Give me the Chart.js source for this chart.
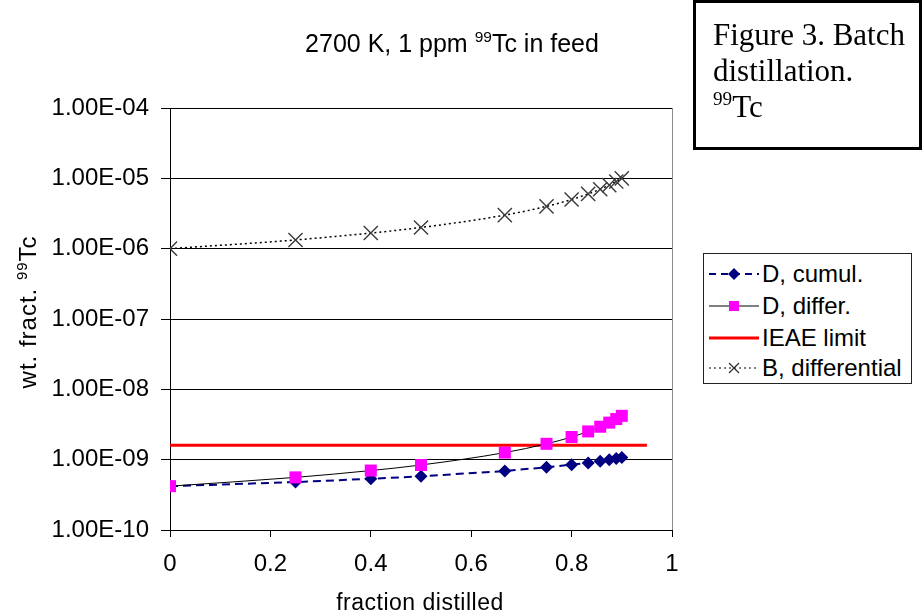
<!DOCTYPE html>
<html>
<head>
<meta charset="utf-8">
<script src="https://cdn.jsdelivr.net/npm/chart.js@4.4.1/dist/chart.umd.min.js"></script>
<style>
  html, body { margin: 0; padding: 0; background: #ffffff; }
  #wrap { position: relative; width: 922px; height: 614px; overflow: hidden; background: #fff; }
  #chart { position: absolute; left: 0; top: 0; }
  .txt { position: absolute; font-family: "Liberation Sans", Arial, sans-serif; color: #000; white-space: nowrap; }
  sup.s { font-size: 0.62em; vertical-align: 0.62em; line-height: 0; }
  #title { left: 252px; top: 31px; width: 400px; text-align: center; font-size: 25px; line-height: 25px; }
  #ytitle { left: -72px; top: 297px; width: 200px; height: 30px; line-height: 30px; text-align: center; font-size: 24px; letter-spacing: 1px; transform: rotate(-90deg); }
  #xtitle { left: 270px; top: 590px; width: 300px; text-align: center; font-size: 23px; line-height: 24px; letter-spacing: 0.5px; }
  #figbox { position: absolute; left: 693px; top: 0px; width: 229px; height: 150px; box-sizing: border-box; border: 3px solid #000; padding: 14px 0 0 17px; font-family: "Liberation Serif", "Times New Roman", serif; font-size: 31px; line-height: 36px; color: #000; }
  #legend { position: absolute; left: 703px; top: 253px; width: 209px; height: 131px; box-sizing: border-box; border: 1px solid #222; background: #fff; }
  .lrow { position: absolute; left: 0; height: 30px; width: 207px; }
  .lrow svg { position: absolute; left: 3px; top: 0; }
  .lrow span { position: absolute; left: 58px; top: 2px; font-family: "Liberation Sans", Arial, sans-serif; font-size: 24px; line-height: 26px; color: #000; white-space: nowrap; }
</style>
</head>
<body>
<div id="wrap">
  <canvas id="chart" width="922" height="614"></canvas>
  <div id="title" class="txt">2700 K, 1 ppm <sup class="s">99</sup>Tc in feed</div>
  <div id="ytitle" class="txt">wt. fract. <sup class="s">99</sup>Tc</div>
  <div id="xtitle" class="txt">fraction distilled</div>
  <div id="figbox">Figure 3. Batch<br>distillation.<br><sup class="s">99</sup>Tc</div>
  <div id="legend">
    <div class="lrow" style="top:5px">
      <svg width="54" height="30"><line x1="2" y1="15" x2="52" y2="15" stroke="#000080" stroke-width="2" stroke-dasharray="7,5"/><polygon points="27,9 33,15 27,21 21,15" fill="#000080"/></svg>
      <span>D, cumul.</span>
    </div>
    <div class="lrow" style="top:37px">
      <svg width="54" height="30"><line x1="2" y1="15" x2="52" y2="15" stroke="#000" stroke-width="1"/><rect x="22" y="10" width="10" height="10" fill="#FF00FF"/></svg>
      <span>D, differ.</span>
    </div>
    <div class="lrow" style="top:69px">
      <svg width="54" height="30"><line x1="2" y1="15" x2="52" y2="15" stroke="#FF0000" stroke-width="3"/></svg>
      <span>IEAE limit</span>
    </div>
    <div class="lrow" style="top:99px">
      <svg width="54" height="30"><line x1="2" y1="15" x2="52" y2="15" stroke="#000" stroke-width="1" stroke-dasharray="2,3"/><line x1="22" y1="10" x2="32" y2="20" stroke="#333" stroke-width="1.3"/><line x1="32" y1="10" x2="22" y2="20" stroke="#333" stroke-width="1.3"/></svg>
      <span>B, differential</span>
    </div>
  </div>
</div>
<script>
// ---- data ----
const fractionDistilled = [0, 0.25, 0.4, 0.5, 0.667, 0.75, 0.8, 0.833, 0.857, 0.875, 0.889, 0.9];
const dCumul = [4.2e-10, 4.8e-10, 5.35e-10, 5.8e-10, 6.9e-10, 7.8e-10, 8.5e-10, 9.0e-10, 9.5e-10, 1.0e-9, 1.04e-9, 1.07e-9];
const dDiffer = [4.2e-10, 5.6e-10, 7.0e-10, 8.4e-10, 1.26e-9, 1.68e-9, 2.1e-9, 2.52e-9, 2.94e-9, 3.36e-9, 3.78e-9, 4.2e-9];
const bDifferential = [1.0e-6, 1.33e-6, 1.67e-6, 2.0e-6, 3.0e-6, 4.0e-6, 5.0e-6, 6.0e-6, 7.0e-6, 8.0e-6, 9.0e-6, 1.0e-5];
const ieaeLimitX = [0, 0.95];
const ieaeLimit = [1.6e-9, 1.6e-9];

const yTickValues = [1e-10, 1e-9, 1e-8, 1e-7, 1e-6, 1e-5, 1e-4];
const yTickLabels = ['1.00E-10', '1.00E-09', '1.00E-08', '1.00E-07', '1.00E-06', '1.00E-05', '1.00E-04'];
const xTickValues = [0, 0.2, 0.4, 0.6, 0.8, 1];
const xTickLabels = ['0', '0.2', '0.4', '0.6', '0.8', '1'];

const pts = (xs, ys) => xs.map((x, i) => ({ x: x, y: ys[i] }));

Chart.defaults.font.family = '"Liberation Sans", Arial, sans-serif';
Chart.defaults.color = '#000';

const plotBorder = {
  id: 'plotBorder',
  beforeDatasetsDraw(chart) {
    const { ctx, chartArea } = chart;
    ctx.save();
    ctx.strokeStyle = '#8c8c8c';
    ctx.lineWidth = 1;
    ctx.beginPath();
    ctx.moveTo(Math.round(chartArea.right) + 0.5, chartArea.top);
    ctx.lineTo(Math.round(chartArea.right) + 0.5, chartArea.bottom);
    ctx.stroke();
    ctx.restore();
  }
};

new Chart(document.getElementById('chart'), {
  type: 'line',
  data: {
    datasets: [
      {
        label: 'D, differ.',
        data: pts(fractionDistilled, dDiffer),
        borderColor: '#000000',
        borderWidth: 1,
        pointStyle: 'rect',
        pointRadius: 8.5,
        pointBackgroundColor: '#FF00FF',
        pointBorderColor: '#FF00FF',
        pointBorderWidth: 0,
        cubicInterpolationMode: 'monotone',
        order: 0
      },
      {
        label: 'IEAE limit',
        data: pts(ieaeLimitX, ieaeLimit),
        borderColor: '#FF0000',
        borderWidth: 3,
        pointRadius: 0,
        order: 1
      },
      {
        label: 'D, cumul.',
        data: pts(fractionDistilled, dCumul),
        borderColor: '#000080',
        borderWidth: 2,
        borderDash: [8, 5],
        pointStyle: 'rectRot',
        pointRadius: 6.5,
        pointBackgroundColor: '#000080',
        pointBorderColor: '#000080',
        pointBorderWidth: 0,
        tension: 0,
        order: 2
      },
      {
        label: 'B, differential',
        data: pts(fractionDistilled, bDifferential),
        borderColor: '#000000',
        borderWidth: 1.5,
        borderDash: [2, 3],
        pointStyle: 'crossRot',
        pointRadius: 10,
        pointBorderColor: '#3a3a3a',
        pointBorderWidth: 1.4,
        cubicInterpolationMode: 'monotone',
        order: 3
      }
    ]
  },
  options: {
    responsive: false,
    animation: false,
    devicePixelRatio: 1,
    layout: { padding: { top: 108, right: 250, left: 0, bottom: 0 } },
    plugins: { legend: { display: false }, tooltip: { enabled: false }, title: { display: false } },
    scales: {
      x: {
        type: 'linear',
        min: 0,
        max: 1,
        afterBuildTicks: (s) => { s.ticks = xTickValues.map(v => ({ value: v })); },
        afterFit: (s) => { s.height = 84; },
        ticks: {
          autoSkip: false,
          maxRotation: 0,
          padding: 13,
          font: { size: 24 },
          color: '#000',
          callback: (v, i) => xTickLabels[i]
        },
        grid: { drawOnChartArea: false, drawTicks: true, tickLength: 7, color: '#000', lineWidth: 1 },
        border: { display: true, color: '#000', width: 1 }
      },
      y: {
        type: 'logarithmic',
        min: 1e-10,
        max: 1e-4,
        afterBuildTicks: (s) => { s.ticks = yTickValues.map(v => ({ value: v, major: true })); },
        afterFit: (s) => { s.width = 170; },
        ticks: {
          autoSkip: false,
          padding: 12,
          font: { size: 24 },
          color: '#000',
          callback: (v, i) => yTickLabels[i]
        },
        grid: { drawOnChartArea: true, drawTicks: true, tickLength: 9, color: '#000', lineWidth: 1 },
        border: { display: true, color: '#000', width: 1 }
      }
    }
  },
  plugins: [plotBorder]
});
</script>
</body>
</html>
